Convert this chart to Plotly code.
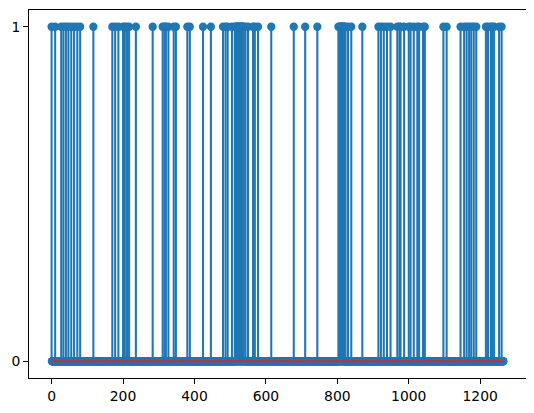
import plotly.graph_objects as go

# Sample count and the sample indices whose value is 1 (everything else is 0).
n_points = 1266
ones_at = [
    0, 10, 27, 33, 40, 47, 55, 63, 72, 80, 117,
    170, 178, 187, 200, 205, 211, 217, 236, 283,
    311, 316, 320, 327, 342, 348, 380, 387, 424, 446,
    480, 487, 493, 505, 513, 516, 518, 520, 522, 524, 526, 528, 530,
    532, 534, 536, 538, 543, 550, 564, 569, 578, 615, 678, 710, 744,
    803, 806, 808, 810, 812, 814, 816, 818, 820, 823, 830, 839, 870,
    915, 922, 930, 939, 949, 968, 974, 977, 987,
    1000, 1005, 1014, 1024, 1029, 1040, 1045, 1097, 1106,
    1145, 1155, 1162, 1169, 1175, 1182, 1189,
    1216, 1222, 1230, 1234, 1239, 1253, 1260,
]
x_ticks = [0, 200, 400, 600, 800, 1000, 1200]
y_ticks = [0, 1]

ones = set(ones_at)
xs = list(range(n_points))
ys = [1 if i in ones else 0 for i in xs]

BLUE = "#1f77b4"
RED = "#d62728"

# stems as one broken line: (x, 0) -> (x, y) for every sample
stem_x, stem_y = [], []
for x, y in zip(xs, ys):
    if y:
        stem_x += [x, x, None]
        stem_y += [0, y, None]

fig = go.Figure()
fig.add_trace(go.Scatter(
    x=stem_x, y=stem_y, mode="lines",
    line=dict(color=BLUE, width=2.08), hoverinfo="skip",
))
fig.add_trace(go.Scatter(
    x=xs, y=ys, mode="markers",
    marker=dict(color=BLUE, size=8.3, line=dict(width=0)),
))
fig.add_trace(go.Scatter(
    x=[xs[0], xs[-1]], y=[0, 0], mode="lines",
    line=dict(color=RED, width=2.08),
))

axis_style = dict(
    showgrid=False, zeroline=False, showline=True, mirror=True,
    linecolor="black", linewidth=1.1, ticks="outside", ticklen=4.9,
    tickwidth=1.1, tickcolor="black", automargin=False,
    tickfont=dict(family="DejaVu Sans", size=13.9, color="black"),
)
fig.update_xaxes(range=[-63.25, 1328.25], tickvals=x_ticks, **axis_style)
fig.update_yaxes(range=[-0.05, 1.05], tickvals=y_ticks, **axis_style)

# the page body adds an 8px offset, so the figure is shrunk by that much
fig.update_layout(
    width=526, height=405, showlegend=False,
    margin=dict(l=21, r=8, t=2, b=35),
    paper_bgcolor="white", plot_bgcolor="white",
)

fig.write_html("out.html")
